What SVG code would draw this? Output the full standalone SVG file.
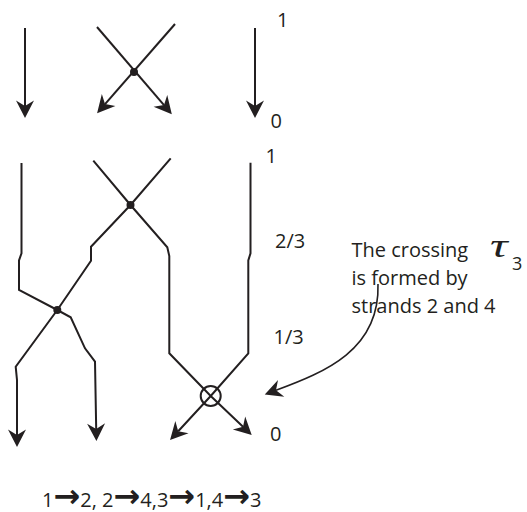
<svg xmlns="http://www.w3.org/2000/svg" width="527" height="512" viewBox="0 0 527 512">
<style>
.s{fill:none;stroke:#231f20;stroke-width:2;stroke-linejoin:miter}
.a{marker-end:url(#ah)}
.t{font-family:"Open Sans","Liberation Sans",sans-serif;font-size:20px;fill:#231f20}
.ar{font-family:"DejaVu Sans",sans-serif;font-size:32px;font-weight:bold}
.dot{fill:#231f20}
</style>
<defs>
<marker id="ah" markerUnits="userSpaceOnUse" viewBox="-6 -10 19 20" markerWidth="19" markerHeight="20" refX="0" refY="0" orient="auto" overflow="visible">
<path d="M12,0 L-5.5,-9 L0,0 L-5.5,9 Z" fill="#231f20"/>
</marker>
</defs>
<rect width="527" height="512" fill="#fff"/>
<g id="top-braid">
<path class="s a" d="M25,28 V106"/>
<path class="s a" d="M97,27 L164,105.1"/>
<path class="s a" d="M175,24 L105,104.1"/>
<path class="s a" d="M255,28 V106"/>
<circle class="dot" cx="134" cy="72" r="4"/>
</g>
<g id="top-labels">
<text class="t" x="277" y="27">1</text>
<text class="t" x="270.5" y="128">0</text>
</g>
<g id="strands">
<path class="s a" d="M21.5,163 V253.3 L19,260.5 V290 L57.3,310 L70.7,317.3 L85,348.3 L95,361.7 L96.2,429"/>
<path class="s a" d="M93.3,160.7 L130.5,205 L167.3,247.3 L169.3,256 V353.3 L210.7,396 L243,426.7"/>
<path class="s a" d="M170.7,158.3 L130.5,205 L91,246.7 V260.7 L57.3,310 L15.7,366.7 L17,380 V435"/>
<path class="s a" d="M250.5,162.7 V253.3 L248.3,260.5 V353.3 L210.7,396 L178.2,431.2"/>
<circle class="dot" cx="130.5" cy="205" r="4"/>
<circle class="dot" cx="57.3" cy="310" r="4"/>
<circle class="s" cx="210.7" cy="396" r="10"/>
</g>
<g id="labels">
<text class="t" x="265.5" y="163">1</text>
<text class="t" x="275" y="248">2/3</text>
<text class="t" x="273.5" y="344">1/3</text>
<text class="t" x="270" y="441">0</text>
</g>
<g id="annotation">
<text class="t" x="351.5" y="257">The crossing</text>
<text class="t" x="351.5" y="285">is formed by</text>
<text class="t" x="351.5" y="313">strands 2 and 4</text>
<text x="0" y="0" transform="translate(490,257) scale(1.45,1)" style="font-family:'Liberation Serif',serif;font-style:italic;font-size:34px;fill:#231f20">τ</text>
<text class="t" x="512" y="270" style="font-size:18px">3</text>
<path class="s a" style="stroke-width:1.6" d="M378,284 C380,350 325,372 276,390.3"/>
</g>
<g id="mapping">
<text class="t" x="42" y="507">1<tspan class="ar">→</tspan>2, 2<tspan class="ar">→</tspan>4,3<tspan class="ar">→</tspan>1,4<tspan class="ar">→</tspan>3</text>
</g>
</svg>
